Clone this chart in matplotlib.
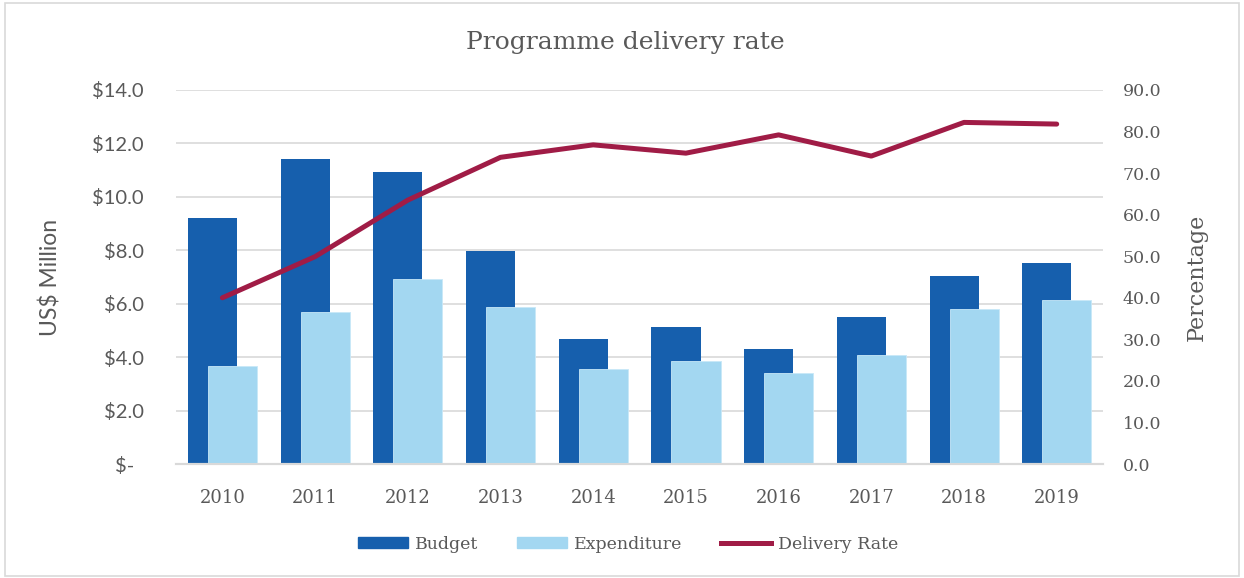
import matplotlib
matplotlib.use("Agg")
import matplotlib.pyplot as plt
import numpy as np
from matplotlib.patches import Rectangle
from matplotlib.lines import Line2D
from matplotlib.patches import Patch

# data
years = ["2010", "2011", "2012", "2013", "2014", "2015", "2016", "2017", "2018", "2019"]
budget = [9.20, 11.41, 10.94, 7.99, 4.67, 5.12, 4.31, 5.49, 7.04, 7.51]
expenditure = [3.66, 5.69, 6.94, 5.88, 3.57, 3.86, 3.40, 4.07, 5.79, 6.15]
delivery_rate = [40.0, 49.9, 63.5, 73.8, 76.8, 74.8, 79.2, 74.1, 82.2, 81.8]

left_ticks = [0, 2, 4, 6, 8, 10, 12, 14]
right_ticks = [0, 10, 20, 30, 40, 50, 60, 70, 80, 90]

c_budget = "#165FAD"
c_exp = "#A3D7F1"
c_rate = "#A01C46"
c_text = "#595959"
c_grid = "#D9D9D9"
serif = "DejaVu Serif"
sans = "Lato"

fig = plt.figure(figsize=(12.44, 5.78), dpi=100)
ax = fig.add_axes([0.1415, 0.1972, 0.7452, 0.6471])
ax2 = ax.twinx()

x = np.arange(len(years))
w = 0.53
ax.bar(x - 0.107, budget, width=w, color=c_budget, zorder=2)
ax.bar(x + 0.109, expenditure, width=w, color=c_exp, edgecolor="#C8E8F8", linewidth=0.6, zorder=3)

ax2.plot(x, delivery_rate, color=c_rate, linewidth=3.6, solid_capstyle="round", zorder=4)

ax.set_xlim(-0.5, len(years) - 0.5)
ax.set_ylim(0, 14)
ax2.set_ylim(0, 90)

for a in (ax, ax2):
    for s in ["top", "left", "right"]:
        a.spines[s].set_visible(False)
    a.spines["bottom"].set_color(c_grid)
    a.spines["bottom"].set_linewidth(1.5)
    a.tick_params(length=0)
ax.tick_params(axis="y", pad=23, labelsize=14.5, labelfontfamily=sans, labelcolor=c_text)
ax.tick_params(axis="x", pad=18, labelsize=13, labelfontfamily=serif, labelcolor=c_text)
ax2.tick_params(axis="y", pad=14, labelsize=12.5, labelfontfamily=serif, labelcolor=c_text)

ax.set_yticks(left_ticks)
ax.set_yticklabels([("$%.1f" % v) if v else "$-  " for v in left_ticks])
ax2.set_yticks(right_ticks)
ax2.set_yticklabels(["%.1f" % v for v in right_ticks])
ax.set_xticks(x)
ax.set_xticklabels(years)

ax.yaxis.grid(True, color=c_grid, linewidth=1.2, zorder=0)
ax.set_axisbelow(True)

ax.set_ylabel("US$ Million", fontsize=16.5, family=sans, color=c_text, labelpad=22)
ax2.set_ylabel("Percentage", fontsize=16, family=serif, color=c_text, labelpad=18)

fig.text(0.503, 0.927, "Programme delivery rate", ha="center", va="center",
         fontsize=18, family=serif, color=c_text)

handles = [Patch(color=c_budget), Patch(color=c_exp), Line2D([], [], color=c_rate, linewidth=3.6)]
leg = fig.legend(handles, ["Budget", "Expenditure", "Delivery Rate"], loc="center",
                 bbox_to_anchor=(0.505, 0.058), ncol=3, frameon=False,
                 prop={"family": serif, "size": 12.5}, handlelength=2.9, handleheight=0.6,
                 columnspacing=2.2, handletextpad=0.4)
for t in leg.get_texts():
    t.set_color(c_text)

fig.patches.append(Rectangle((0.004, 0.004), 0.992, 0.99, transform=fig.transFigure,
                             fill=False, edgecolor="#D9D9D9", linewidth=1.2))

fig.savefig("out.png", dpi=100)
